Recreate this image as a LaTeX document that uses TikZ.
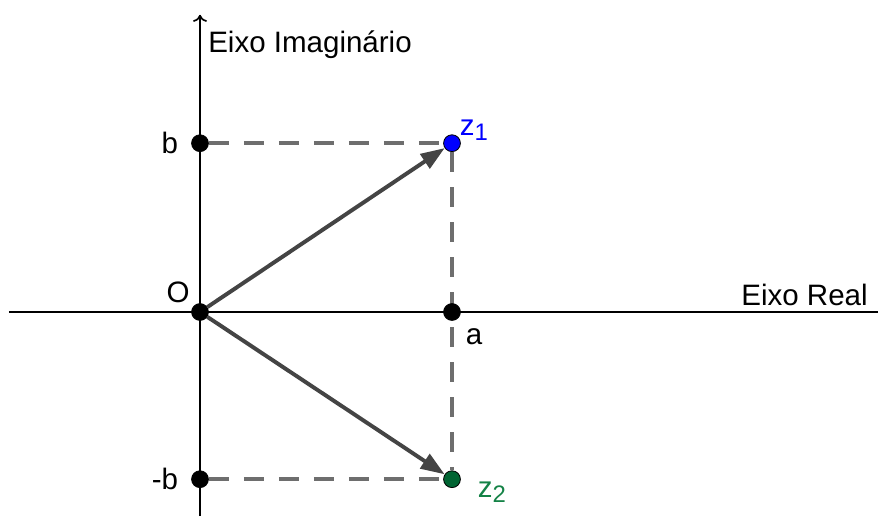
\documentclass[tikz,border=0pt]{standalone}
\usepackage{fontspec}
\setmainfont{Liberation Sans}
\usepackage{xcolor}
\usetikzlibrary{positioning, arrows.meta, backgrounds}

\definecolor{zblue}{RGB}{0,0,255}
\definecolor{zgreen}{RGB}{0,100,50}
\definecolor{zlabel}{RGB}{20,130,70}
\definecolor{vecgray}{RGB}{68,68,68}
\definecolor{dashgray}{RGB}{110,110,110}

\newcommand{\zsub}[1]{\raisebox{-0.35ex}{\fontsize{17}{20}\selectfont #1}}

\begin{document}
\begin{tikzpicture}[
      pointdot/.style={circle, draw=black, line width=0.6pt, fill=black, minimum size=0.42cm, inner sep=0pt},
      axisline/.style={line width=1.4pt, black},
      guide/.style={line width=2.6pt, dashgray, dash pattern=on 14.2pt off 10.7pt},
      vector/.style={line width=2.8pt, vecgray, -{Triangle[length=17pt, width=12pt]}},
      lbl/.style={font=\fontsize{21}{25}\selectfont, inner sep=0pt}
    ]
      \useasboundingbox (-5,-5.1) rectangle (17,7.8);

      % axis ends
      \coordinate (xmin) at (-4.78,0);
      \coordinate (xmax) at (16.95,0);
      \coordinate (ymin) at (0,-5.1);
      \coordinate (ymax) at (0,7.43);

      % points
      \node[pointdot] (O) at (0,0) {};
      \node[pointdot] (a) at (6.3,0) {};
      \node[pointdot] (b) at (0,4.22) {};
      \node[pointdot] (mb) at (0,-4.18) {};
      \node[pointdot, fill=zblue] (z1) at (6.3,4.22) {};
      \node[pointdot, fill=zgreen] (z2) at (6.3,-4.18) {};

      \begin{scope}[on background layer]
        \draw[axisline] (xmin) -- (xmax);
        \draw[axisline, -{To[length=5pt, width=10pt, line width=1.2pt]}] (ymin) -- (ymax);
        \draw[guide] (b) -- (z1);
        \draw[guide] (mb) -- (z2);
        \draw[guide] (z1) -- (z2);
        \draw[vector] (O) -- (z1);
        \draw[vector] (O) -- (z2);
      \end{scope}

      % labels
      \node[lbl, anchor=west] (imlbl) at (0.2,6.68) {Eixo Imaginário};
      \node[lbl, anchor=east] (relbl) at (16.7,0.42) {Eixo Real};
      \node[lbl] (olbl) at (-0.55,0.5) {O};
      \node[lbl, left=0.32cm of b] (blbl) {b};
      \node[lbl, left=0.32cm of mb] (mblbl) {-b};
      \node[lbl] (albl) at (6.85,-0.62) {a};
      \node[lbl, text=zblue] (z1lbl) at (6.85,4.55) {z\zsub{1}};
      \node[lbl, text=zlabel] (z2lbl) at (7.3,-4.5) {z\zsub{2}};
    \end{tikzpicture}
\end{document}
